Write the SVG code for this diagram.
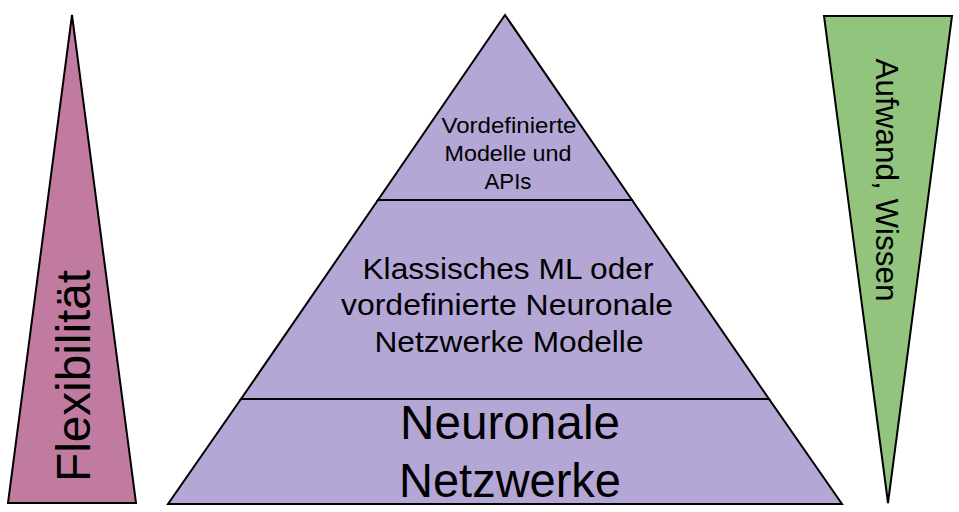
<svg xmlns="http://www.w3.org/2000/svg" width="959" height="512" viewBox="0 0 959 512">
<style>
.shape{stroke:#000;stroke-width:2;stroke-linejoin:miter}
.pyr{fill:#B4A7D6}
.t{font-family:"Liberation Sans",Arial,sans-serif;fill:#000;text-anchor:middle}
</style>
<rect width="959" height="512" fill="#fff"/>
<g id="flexibilitaet">
<polygon class="shape" fill="#C27BA0" points="72,15 136,503 8,503"/>
<text class="t" font-size="48" transform="translate(90,376) rotate(-90)" textLength="212" lengthAdjust="spacingAndGlyphs">Flexibilität</text>
</g>
<g id="aufwand">
<polygon class="shape" fill="#93C47D" points="824,16 952,16 888,503"/>
<text class="t" font-size="32" transform="translate(876,180) rotate(90)" textLength="243" lengthAdjust="spacingAndGlyphs">Aufwand, Wissen</text>
</g>
<g id="level-bottom">
<polygon class="shape pyr" points="241,399 769,399 842,504 168,504"/>
<text class="t" font-size="48" x="510" y="439" textLength="220" lengthAdjust="spacingAndGlyphs">Neuronale</text>
<text class="t" font-size="48" x="510" y="497" textLength="222" lengthAdjust="spacingAndGlyphs">Netzwerke</text>
</g>
<g id="level-middle">
<polygon class="shape pyr" points="378,200 632,200 769,399 241,399"/>
<text class="t" font-size="30" x="508" y="279" textLength="291" lengthAdjust="spacingAndGlyphs">Klassisches ML oder</text>
<text class="t" font-size="30" x="507" y="315" textLength="332" lengthAdjust="spacingAndGlyphs">vordefinierte Neuronale</text>
<text class="t" font-size="30" x="509" y="352" textLength="269" lengthAdjust="spacingAndGlyphs">Netzwerke Modelle</text>
</g>
<g id="level-top">
<polygon class="shape pyr" points="505,15 632,200 378,200"/>
<text class="t" font-size="22" x="509" y="133" textLength="135" lengthAdjust="spacingAndGlyphs">Vordefinierte</text>
<text class="t" font-size="22" x="508" y="161" textLength="127" lengthAdjust="spacingAndGlyphs">Modelle und</text>
<text class="t" font-size="22" x="508" y="189" textLength="47" lengthAdjust="spacingAndGlyphs">APIs</text>
</g>
<g id="connectors"></g>
</svg>
